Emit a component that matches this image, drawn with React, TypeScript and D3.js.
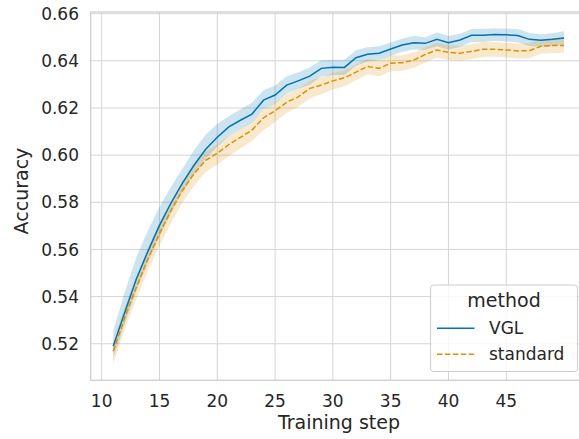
import { useRef, useEffect } from 'react'
import * as d3 from 'd3'

// training steps on the x axis
const steps = [11, 12, 13, 14, 15, 16, 17, 18, 19, 20, 21, 22, 23, 24, 25, 26, 27, 28, 29, 30,
  31, 32, 33, 34, 35, 36, 37, 38, 39, 40, 41, 42, 43, 44, 45, 46, 47, 48, 49, 50]

// VGL: mean accuracy and confidence band
const vglMean = [0.5189, 0.5334, 0.5475, 0.5592, 0.5702, 0.5797, 0.5882, 0.5958, 0.6025, 0.6076,
  0.6120, 0.6148, 0.6174, 0.6233, 0.6255, 0.6297, 0.6315, 0.6335, 0.6368, 0.6373,
  0.6372, 0.6413, 0.6428, 0.6432, 0.6450, 0.6467, 0.6477, 0.6474, 0.6491, 0.6477,
  0.6488, 0.6508, 0.6508, 0.6512, 0.6510, 0.6507, 0.6491, 0.6487, 0.6491, 0.6497]
const vglHigh = [0.5255, 0.5420, 0.5568, 0.5680, 0.5780, 0.5866, 0.5944, 0.6022, 0.6087, 0.6132,
  0.6165, 0.6195, 0.6222, 0.6275, 0.6295, 0.6335, 0.6352, 0.6372, 0.6402, 0.6405,
  0.6405, 0.6445, 0.6458, 0.6462, 0.6478, 0.6495, 0.6505, 0.6500, 0.6520, 0.6505,
  0.6515, 0.6535, 0.6536, 0.6538, 0.6537, 0.6535, 0.6518, 0.6513, 0.6517, 0.6525]
const vglLow = [0.5140, 0.5285, 0.5425, 0.5545, 0.5655, 0.5755, 0.5845, 0.5920, 0.5985, 0.6035,
  0.6080, 0.6110, 0.6138, 0.6195, 0.6218, 0.6260, 0.6280, 0.6300, 0.6333, 0.6340,
  0.6340, 0.6380, 0.6397, 0.6402, 0.6420, 0.6438, 0.6448, 0.6446, 0.6462, 0.6448,
  0.6460, 0.6480, 0.6480, 0.6484, 0.6482, 0.6478, 0.6463, 0.6460, 0.6463, 0.6468]

// standard: mean accuracy and confidence band
const stdMean = [0.5168, 0.5312, 0.5440, 0.5560, 0.5667, 0.5766, 0.5851, 0.5922, 0.5978, 0.6008,
  0.6045, 0.6075, 0.6106, 0.6158, 0.6188, 0.6224, 0.6247, 0.6283, 0.6297, 0.6315,
  0.6328, 0.6352, 0.6376, 0.6368, 0.6390, 0.6392, 0.6403, 0.6427, 0.6446, 0.6436,
  0.6432, 0.6440, 0.6449, 0.6449, 0.6446, 0.6442, 0.6443, 0.6462, 0.6465, 0.6465]
const stdHigh = [0.5210, 0.5355, 0.5485, 0.5605, 0.5712, 0.5808, 0.5890, 0.5960, 0.6015, 0.6045,
  0.6080, 0.6110, 0.6142, 0.6192, 0.6222, 0.6258, 0.6280, 0.6315, 0.6330, 0.6348,
  0.6360, 0.6384, 0.6408, 0.6400, 0.6422, 0.6424, 0.6435, 0.6458, 0.6477, 0.6467,
  0.6463, 0.6471, 0.6480, 0.6480, 0.6477, 0.6473, 0.6474, 0.6492, 0.6495, 0.6495]
const stdLow = [0.5115, 0.5262, 0.5390, 0.5510, 0.5615, 0.5712, 0.5800, 0.5870, 0.5928, 0.5960,
  0.5995, 0.6028, 0.6060, 0.6105, 0.6140, 0.6180, 0.6205, 0.6240, 0.6258, 0.6278,
  0.6292, 0.6318, 0.6342, 0.6334, 0.6356, 0.6358, 0.6370, 0.6394, 0.6413, 0.6403,
  0.6400, 0.6408, 0.6417, 0.6417, 0.6414, 0.6410, 0.6411, 0.6430, 0.6433, 0.6433]

const xTicks = [10, 15, 20, 25, 30, 35, 40, 45]
const yTicks = [0.52, 0.54, 0.56, 0.58, 0.60, 0.62, 0.64, 0.66]
const methods = ['VGL', 'standard']

const W = 579
const H = 439
const FONT = '"DejaVu Sans", sans-serif'

const App = () => {
  const svgRef = useRef<SVGSVGElement>(null)

  useEffect(() => {
    const margin = { top: 12, left: 90.7, right: 586.6, bottom: 380.3 }

    d3.select(svgRef.current).selectAll('*').remove()
    const svg = d3.select(svgRef.current)

    const x = d3.scaleLinear().domain([9.05, 51.95]).range([margin.left, margin.right])
    const y = d3.scaleLinear().domain([0.5045, 0.6607]).range([margin.bottom, margin.top])

    svg.append('defs').append('clipPath').attr('id', 'plotclip')
      .append('rect')
      .attr('x', margin.left).attr('y', margin.top)
      .attr('width', margin.right - margin.left).attr('height', margin.bottom - margin.top)

    // grid
    const grid = svg.append('g')
    grid.selectAll('.gx').data(xTicks).enter().append('line')
      .attr('x1', d => x(d)).attr('x2', d => x(d))
      .attr('y1', margin.top).attr('y2', margin.bottom)
      .attr('stroke', '#d5d5d5').attr('stroke-width', 1)
    grid.selectAll('.gy').data(yTicks).enter().append('line')
      .attr('x1', margin.left).attr('x2', margin.right)
      .attr('y1', d => y(d)).attr('y2', d => y(d))
      .attr('stroke', '#d5d5d5').attr('stroke-width', 1)

    // spines
    svg.append('rect')
      .attr('x', margin.left).attr('y', margin.top)
      .attr('width', margin.right - margin.left).attr('height', margin.bottom - margin.top)
      .attr('fill', 'none').attr('stroke', '#cccccc').attr('stroke-width', 1.25)

    const series = [
      { name: 'VGL', mean: vglMean, lo: vglLow, hi: vglHigh, color: '#0173b2', dash: null },
      { name: 'standard', mean: stdMean, lo: stdLow, hi: stdHigh, color: '#de8f05', dash: '5.5,2.4' },
    ]

    const plot = svg.append('g').attr('clip-path', 'url(#plotclip)')

    // confidence bands
    series.forEach(s => {
      const band = d3.area<number>()
        .x((_, i) => x(steps[i]))
        .y0((_, i) => y(s.lo[i]))
        .y1((_, i) => y(s.hi[i]))
      plot.append('path')
        .attr('d', band(s.mean))
        .attr('fill', s.color).attr('fill-opacity', 0.2)
    })

    series.forEach(s => {
      const line = d3.line<number>()
        .x((_, i) => x(steps[i]))
        .y(d => y(d))
      plot.append('path')
        .attr('d', line(s.mean))
        .attr('fill', 'none')
        .attr('stroke', s.color)
        .attr('stroke-width', 1.5)
        .attr('stroke-dasharray', s.dash)
    })

    // tick labels
    svg.append('g').selectAll('text').data(xTicks).enter().append('text')
      .attr('x', d => x(d)).attr('y', 406.5)
      .attr('text-anchor', 'middle')
      .attr('font-family', FONT).attr('font-size', 17).attr('fill', '#262626')
      .text(d => d)
    svg.append('g').selectAll('text').data(yTicks).enter().append('text')
      .attr('x', 79).attr('y', d => y(d)).attr('dy', '0.36em')
      .attr('text-anchor', 'end')
      .attr('font-family', FONT).attr('font-size', 17).attr('fill', '#262626')
      .text(d => d3.format('.2f')(d))

    // axis labels
    svg.append('text')
      .attr('x', 339).attr('y', 428.5)
      .attr('text-anchor', 'middle')
      .attr('font-family', FONT).attr('font-size', 19).attr('fill', '#262626')
      .text('Training step')
    svg.append('text')
      .attr('transform', `translate(28,191) rotate(-90)`)
      .attr('text-anchor', 'middle')
      .attr('font-family', FONT).attr('font-size', 19).attr('fill', '#262626')
      .text('Accuracy')

    // legend
    const lg = svg.append('g')
    lg.append('rect')
      .attr('x', 430.5).attr('y', 285).attr('width', 147).attr('height', 86.5)
      .attr('rx', 3).attr('fill', '#ffffff').attr('fill-opacity', 0.8)
      .attr('stroke', '#cccccc').attr('stroke-width', 1)
    lg.append('text')
      .attr('x', 504).attr('y', 306.5).attr('text-anchor', 'middle')
      .attr('font-family', FONT).attr('font-size', 19).attr('fill', '#262626')
      .text('method')
    methods.forEach((m, i) => {
      const s = series[i]
      const ly = 328.3 + i * 26
      lg.append('line')
        .attr('x1', 437).attr('x2', 474.5).attr('y1', ly).attr('y2', ly)
        .attr('stroke', s.color).attr('stroke-width', 1.5)
        .attr('stroke-dasharray', s.dash)
      lg.append('text')
        .attr('x', 489).attr('y', ly + 6)
        .attr('font-family', FONT).attr('font-size', 17).attr('fill', '#262626')
        .text(m)
    })
  }, [])

  return (
    <svg ref={svgRef} width={W} height={H} style={{ position: 'absolute', left: 0, top: 0 }}></svg>
  )
}

export default App
